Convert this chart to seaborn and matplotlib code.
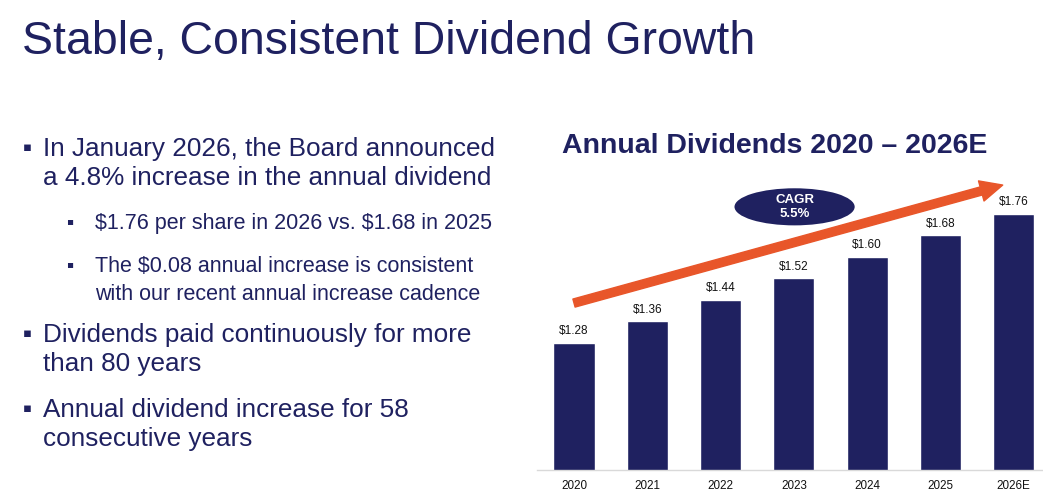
import matplotlib
matplotlib.use("Agg")
import matplotlib.pyplot as plt
import seaborn as sns
import pandas as pd
from matplotlib.patches import Ellipse

# data
years = ['2020', '2021', '2022', '2023', '2024', '2025', '2026E']
dividends = [1.28, 1.36, 1.44, 1.52, 1.60, 1.68, 1.76]
cagr_label = 'CAGR\n5.5%'

NAVY = '#1F2160'
ORANGE = '#E8562A'

sns.set_theme(style="white")
plt.rcParams['font.family'] = ['Liberation Sans', 'DejaVu Sans']
plt.rcParams['text.parse_math'] = False

W, H = 1043, 500
fig = plt.figure(figsize=(W / 100, H / 100), dpi=100)


def fx(px):
    return px / W


def fy(py):
    return 1 - py / H


# slide title
fig.text(fx(22), fy(54), 'Stable, Consistent Dividend Growth', fontsize=33.4,
         color=NAVY, va='baseline', ha='left')

# bullet text
main_lines = [
    (156, ['In January 2026, the Board announced', 'a 4.8% increase in the annual dividend']),
    (342, ['Dividends paid continuously for more', 'than 80 years']),
    (417, ['Annual dividend increase for 58', 'consecutive years']),
]
sub_lines = [
    (229, ['$1.76 per share in 2026 vs. $1.68 in 2025']),
    (272, ['The $0.08 annual increase is consistent', 'with our recent annual increase cadence']),
]

for base, lines in main_lines:
    fig.text(fx(23), fy(base - 5), '\u25aa', fontsize=9.5, color=NAVY,
             family='DejaVu Sans', va='baseline', ha='left')
    for k, line in enumerate(lines):
        fig.text(fx(43), fy(base + 29 * k), line, fontsize=18.8, color=NAVY,
                 va='baseline', ha='left')

for base, lines in sub_lines:
    fig.text(fx(66), fy(base - 5), '\u25aa', fontsize=7.5, color=NAVY,
             family='DejaVu Sans', va='baseline', ha='left')
    for k, line in enumerate(lines):
        fig.text(fx(95), fy(base + 28.5 * k), line, fontsize=15.5, color=NAVY,
                 va='baseline', ha='left')

# chart title
fig.text(fx(775), fy(146), 'Annual Dividends 2020 \u2013 2026E', fontsize=20.5,
         fontweight='bold', color=NAVY, ha='center', va='center')

# bar chart
ax = fig.add_axes([fx(537), fy(470), fx(W - 537), 300 / H])
df = pd.DataFrame({'year': years, 'dividend': dividends})
sns.barplot(data=df, x='year', y='dividend', color=NAVY, width=0.56,
            saturation=1, ax=ax)

ax.set_ylim(0.807, 1.923)
ax.set_xlim(-0.505, 6.4)
ax.bar_label(ax.containers[0], labels=[f'${v:.2f}' for v in dividends],
             padding=4, fontsize=8.5, color='#111111')

for s in ['top', 'right', 'left']:
    ax.spines[s].set_visible(False)
ax.spines['bottom'].set_color('#D9D9D9')
ax.spines['bottom'].set_linewidth(1)
ax.set_yticks([])
ax.set_xlabel('')
ax.set_ylabel('')
ax.tick_params(axis='x', length=0, pad=7, labelsize=8.4, labelcolor='#111111')
ax.patch.set_alpha(0)

# growth arrow
ax.annotate('', xy=(5.85, 1.867), xytext=(0.0, 1.428),
            arrowprops=dict(arrowstyle='simple,head_length=0.8,head_width=0.75,tail_width=0.3',
                            color=ORANGE, mutation_scale=20, shrinkA=0, shrinkB=0),
            annotation_clip=False)

# CAGR bubble
ax.add_patch(Ellipse((3.01, 1.786), 1.64, 0.138, facecolor=NAVY, edgecolor='none',
                     clip_on=False, zorder=5))
ax.text(3.01, 1.786, cagr_label, ha='center', va='center', fontsize=9.5,
        fontweight='bold', color='white', linespacing=1.25, zorder=6)

fig.savefig('out.png', dpi=100, facecolor='white')
